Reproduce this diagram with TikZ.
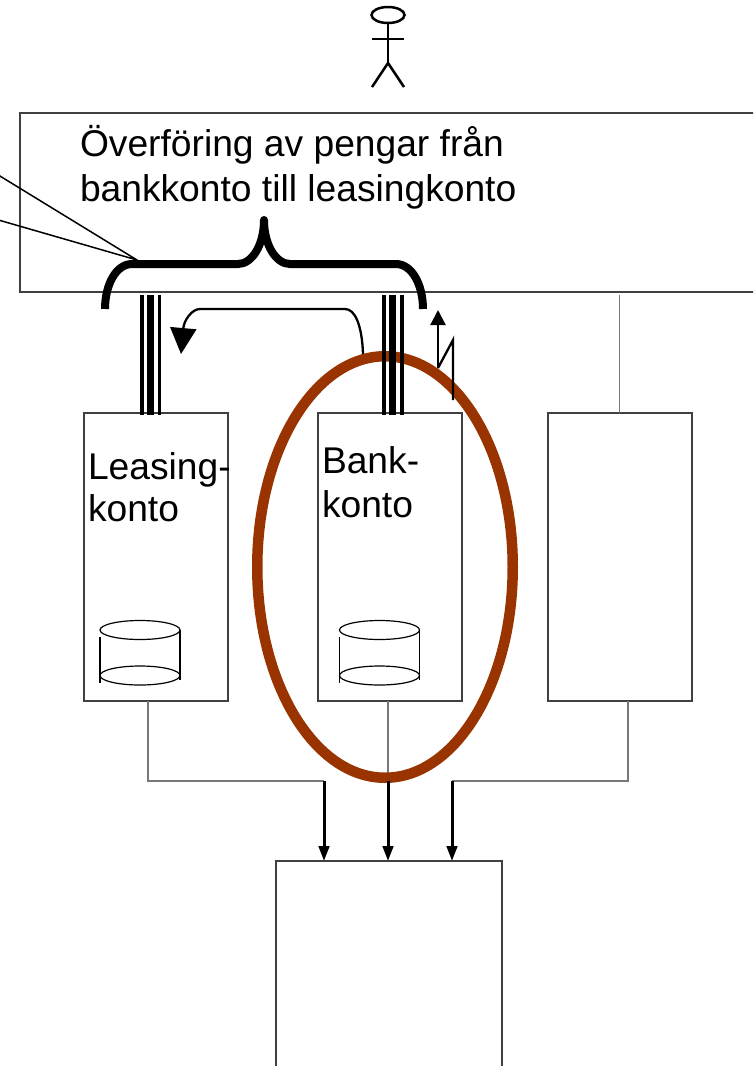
\documentclass[tikz,border=0pt]{standalone}
\usepackage{fontspec}
\setmainfont{Liberation Sans}
\usetikzlibrary{arrows.meta,shapes.geometric}
\definecolor{rust}{HTML}{993300}
\definecolor{boxline}{HTML}{404040}
\definecolor{wire}{HTML}{787878}
\tikzset{
  x=1pt,y=-1pt,
  box/.style={draw=boxline,line width=1.1pt,fill=none,inner sep=0pt,outer sep=0pt},
  txt/.style={anchor=base west,inner sep=0pt,outer sep=0pt,font=\fontsize{37.2}{45}\selectfont,text=black},
  wireline/.style={draw=wire,line width=1.1pt},
  flow/.style={draw=black,line width=3pt,-{Triangle[length=15pt,width=10.5pt]}},
  leader/.style={draw=black,line width=1.5pt},
  thinbar/.style={draw=black,line width=3.6pt},
  fatbar/.style={draw=black,line width=7pt},
  cyl/.style={draw=black,line width=1.2pt},
  cylend/.style={draw=black,line width=1.2pt,ellipse,minimum width=80pt,minimum height=19pt,inner sep=0pt,outer sep=0pt},
  stick/.style={draw=black,line width=2.5pt},
  brace/.style={draw=black,line width=8pt},
}
\begin{document}
\begin{tikzpicture}
\clip (0,0) rectangle (753,1066);
\path[fill=white] (0,0) rectangle (753,1066);
% boxes
\node[box,minimum width=760pt,minimum height=179pt] (ui) at (400,202.5) {};
\node[box,minimum width=144pt,minimum height=288pt] (leasing) at (156,557) {};
\node[box,minimum width=144pt,minimum height=288pt] (bank) at (390,557) {};
\node[box,minimum width=144pt,minimum height=288pt] (third) at (620,557) {};
\node[box,minimum width=226pt,minimum height=230pt] (sink) at (389,976) {};
% texts
\node[txt] (t1) at (80,156) {Överföring av pengar från};
\node[txt] (t2) at (80,201) {bankkonto till leasingkonto};
\node[txt] (t3) at (88,479) {Leasing-};
\node[txt] (t4) at (88,521) {konto};
\node[txt] (t5) at (322,473) {Bank-};
\node[txt] (t6) at (322,517) {konto};
% actor
\node[draw=black,line width=2.5pt,ellipse,minimum width=33pt,minimum height=16pt,inner sep=0pt,outer sep=0pt] (head) at (388,15) {};
\coordinate (hip) at (388,63);
\coordinate (armL) at (372,39);
\coordinate (armR) at (404,39);
\coordinate (legL) at (372,87);
\coordinate (legR) at (404,87);
\draw[stick] (head.south) -- (hip);
\draw[stick] (armL) -- (armR);
\draw[stick] (legL) -- (hip) -- (legR);
% cylinders
\node[cylend] (c1top) at (140,630) {};
\node[cylend] (c1bot) at (140,675.5) {};
\draw[cyl] (c1top.east) -- (180,680);
\draw[cyl] (100,637) -- (100,683);
\node[cylend] (c2top) at (379.5,630) {};
\node[cylend] (c2bot) at (379.5,675.5) {};
\draw[cyl] (c2top.east) -- (419.5,680);
\draw[cyl] (339.5,637) -- (339.5,683);
% connectors to sink
\coordinate (j1) at (148,781);
\coordinate (j2) at (388,781);
\coordinate (j3) at (628,781);
\coordinate (a1) at (324,781);
\coordinate (a3) at (452,781);
\draw[wireline] (leasing.south -| j1) -- (j1) -- (a1);
\draw[wireline] (bank.south -| j2) -- (j2);
\draw[wireline] (third.south -| j3) -- (j3) -- (a3);
\coordinate (up3) at (619.5,295);
\draw[wireline] (up3) -- (third.north -| up3);
% ellipse
\node[draw=rust,line width=10.5pt,ellipse,minimum width=255.5pt,minimum height=421.5pt,inner sep=0pt,outer sep=0pt] (focus) at (385,567) {};
\draw[flow] (a1) -- (sink.north -| a1);
\draw[flow] (j2) -- (sink.north -| j2);
\draw[flow] (a3) -- (sink.north -| a3);
% bars
\coordinate (lb) at (150.7,295);
\coordinate (rb) at (392.5,295);
\draw[fatbar] (lb) -- ++(0,120);
\draw[thinbar] ([xshift=-9pt]lb) -- ++(0,120);
\draw[thinbar] ([xshift=8.6pt]lb) -- ++(0,120);
\draw[fatbar] (rb) -- ++(0,120);
\draw[thinbar] ([xshift=-8.8pt]rb) -- ++(0,120);
\draw[thinbar] ([xshift=9.5pt]rb) -- ++(0,120);
% brace
\coordinate (braceL) at (105,309);
\coordinate (braceR) at (423,309);
\draw[brace] (braceL) .. controls (105,285) and (116,264) .. (132,264) -- (238,264)
  .. controls (252,264) and (264,245) .. (264,220);
\draw[brace] (braceR) .. controls (423,285) and (412,264) .. (396,264) -- (290,264)
  .. controls (276,264) and (264,245) .. (264,220);
\draw[brace,line cap=round] (264,224) -- (264,220);
% leader lines
\coordinate (tip) at (137,260);
\coordinate (off1) at (-5,173);
\coordinate (off2) at (-5,219);
\draw[leader] (off1) -- (tip) -- (off2);
% curved arrow
\coordinate (from) at (363,354);
\draw[draw=black,line width=2.3pt,-{Triangle[length=26pt,width=26pt]}] (from) .. controls (362,325) and (355,309) .. (345,309) -- (200,309) .. controls (192,309) and (184,320) .. (181,354);
% small arrow with zigzag
\coordinate (zz) at (438,368);
\draw[draw=black,line width=2.3pt,-{Triangle[length=15pt,width=15pt]}] (zz) -- (438,310);
\draw[draw=black,line width=2.3pt] (zz) -- (453,340) -- (453,400);
\end{tikzpicture}
\end{document}
